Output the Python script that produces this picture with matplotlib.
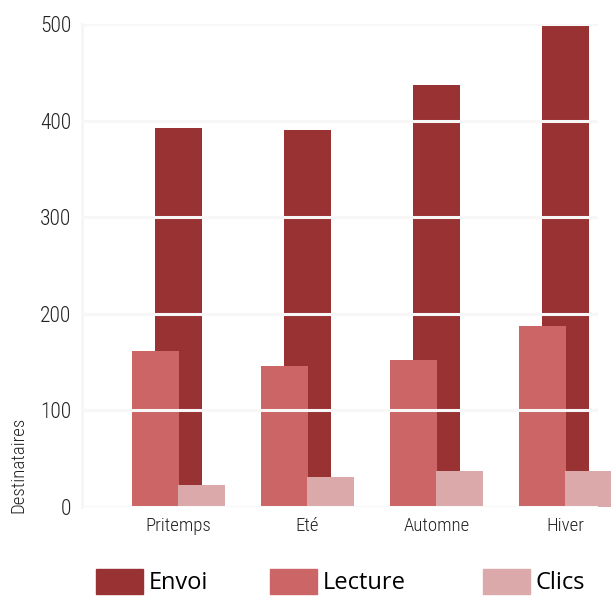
import matplotlib
matplotlib.use("Agg")
import matplotlib.pyplot as plt
import matplotlib.patches as mpatches
import numpy as np
from matplotlib import font_manager

categories = ["Pritemps", "Eté", "Automne", "Hiver"]
envoi = [392, 390, 437, 499]
lecture = [162, 146, 152, 187]
clics = [23, 31, 37, 37]
series_names = ["Envoi", "Lecture", "Clics"]
colors = ["#993233", "#cc6666", "#dba9a9"]
yticks = [0, 100, 200, 300, 400, 500]

avail = {f.name for f in font_manager.fontManager.ttflist}
narrow = "DejaVu Sans"
for cand in ["Roboto Condensed", "Liberation Sans Narrow", "Roboto"]:
    if cand in avail:
        narrow = cand
        break
legend_font = "Open Sans" if "Open Sans" in avail else "DejaVu Sans"

W, H = 611, 596
fig = plt.figure(figsize=(W / 100, H / 100), dpi=100)
L, R, T, B = 82, 598, 24, 507
ax = fig.add_axes([L / W, 1 - B / H, (R - L) / W, (B - T) / H])

x = np.arange(len(categories))
bw = 0.364
off = 0.178
ax.bar(x, envoi, width=bw, color=colors[0], zorder=2, clip_on=False)
ax.bar(x - off, lecture, width=bw, color=colors[1], zorder=2.1, clip_on=False)
ax.bar(x + off, clics, width=bw, color=colors[2], zorder=2.2, clip_on=False)

ax.set_xlim(-0.748, 3.252)
ax.set_ylim(0, 500)
ax.set_yticks(yticks)
ax.set_yticklabels([str(v) for v in yticks], fontfamily=narrow, fontsize=15.5,
                   fontweight="light", color="#222222")
ax.set_xticks(x)
ax.set_xticklabels(categories, fontfamily=narrow, fontsize=13.5,
                   fontweight="light", color="#222222")
ax.tick_params(axis="both", length=0)
ax.tick_params(axis="y", pad=7.5)
ax.tick_params(axis="x", pad=7)
for v in yticks:
    ax.axhline(v, color="#f7f7f7", lw=2.2, zorder=3)
for s in ["top", "right", "bottom"]:
    ax.spines[s].set_visible(False)
ax.spines["left"].set_color("#f5f5f5")
ax.spines["left"].set_linewidth(2)

fig.text(18 / W, 1 - 465 / H, "Destinataires", rotation=90, ha="center", va="center",
         fontfamily=narrow, fontsize=13.5, fontweight="light", color="#222222")

legend_x = [96, 270, 483]
fs = 17
for name, col, lx in zip(series_names, colors, legend_x):
    h = mpatches.Patch(color=col)
    fig.legend([h], [name], loc="upper left",
               bbox_to_anchor=(lx / W, 1 - 569 / H),
               frameon=False, borderpad=0, borderaxespad=0,
               handlelength=47 / (fs * 100 / 72), handleheight=29 / (fs * 100 / 72),
               handletextpad=0.25,
               prop={"family": legend_font, "size": fs})

fig.savefig("out.png", dpi=100, facecolor="white")
